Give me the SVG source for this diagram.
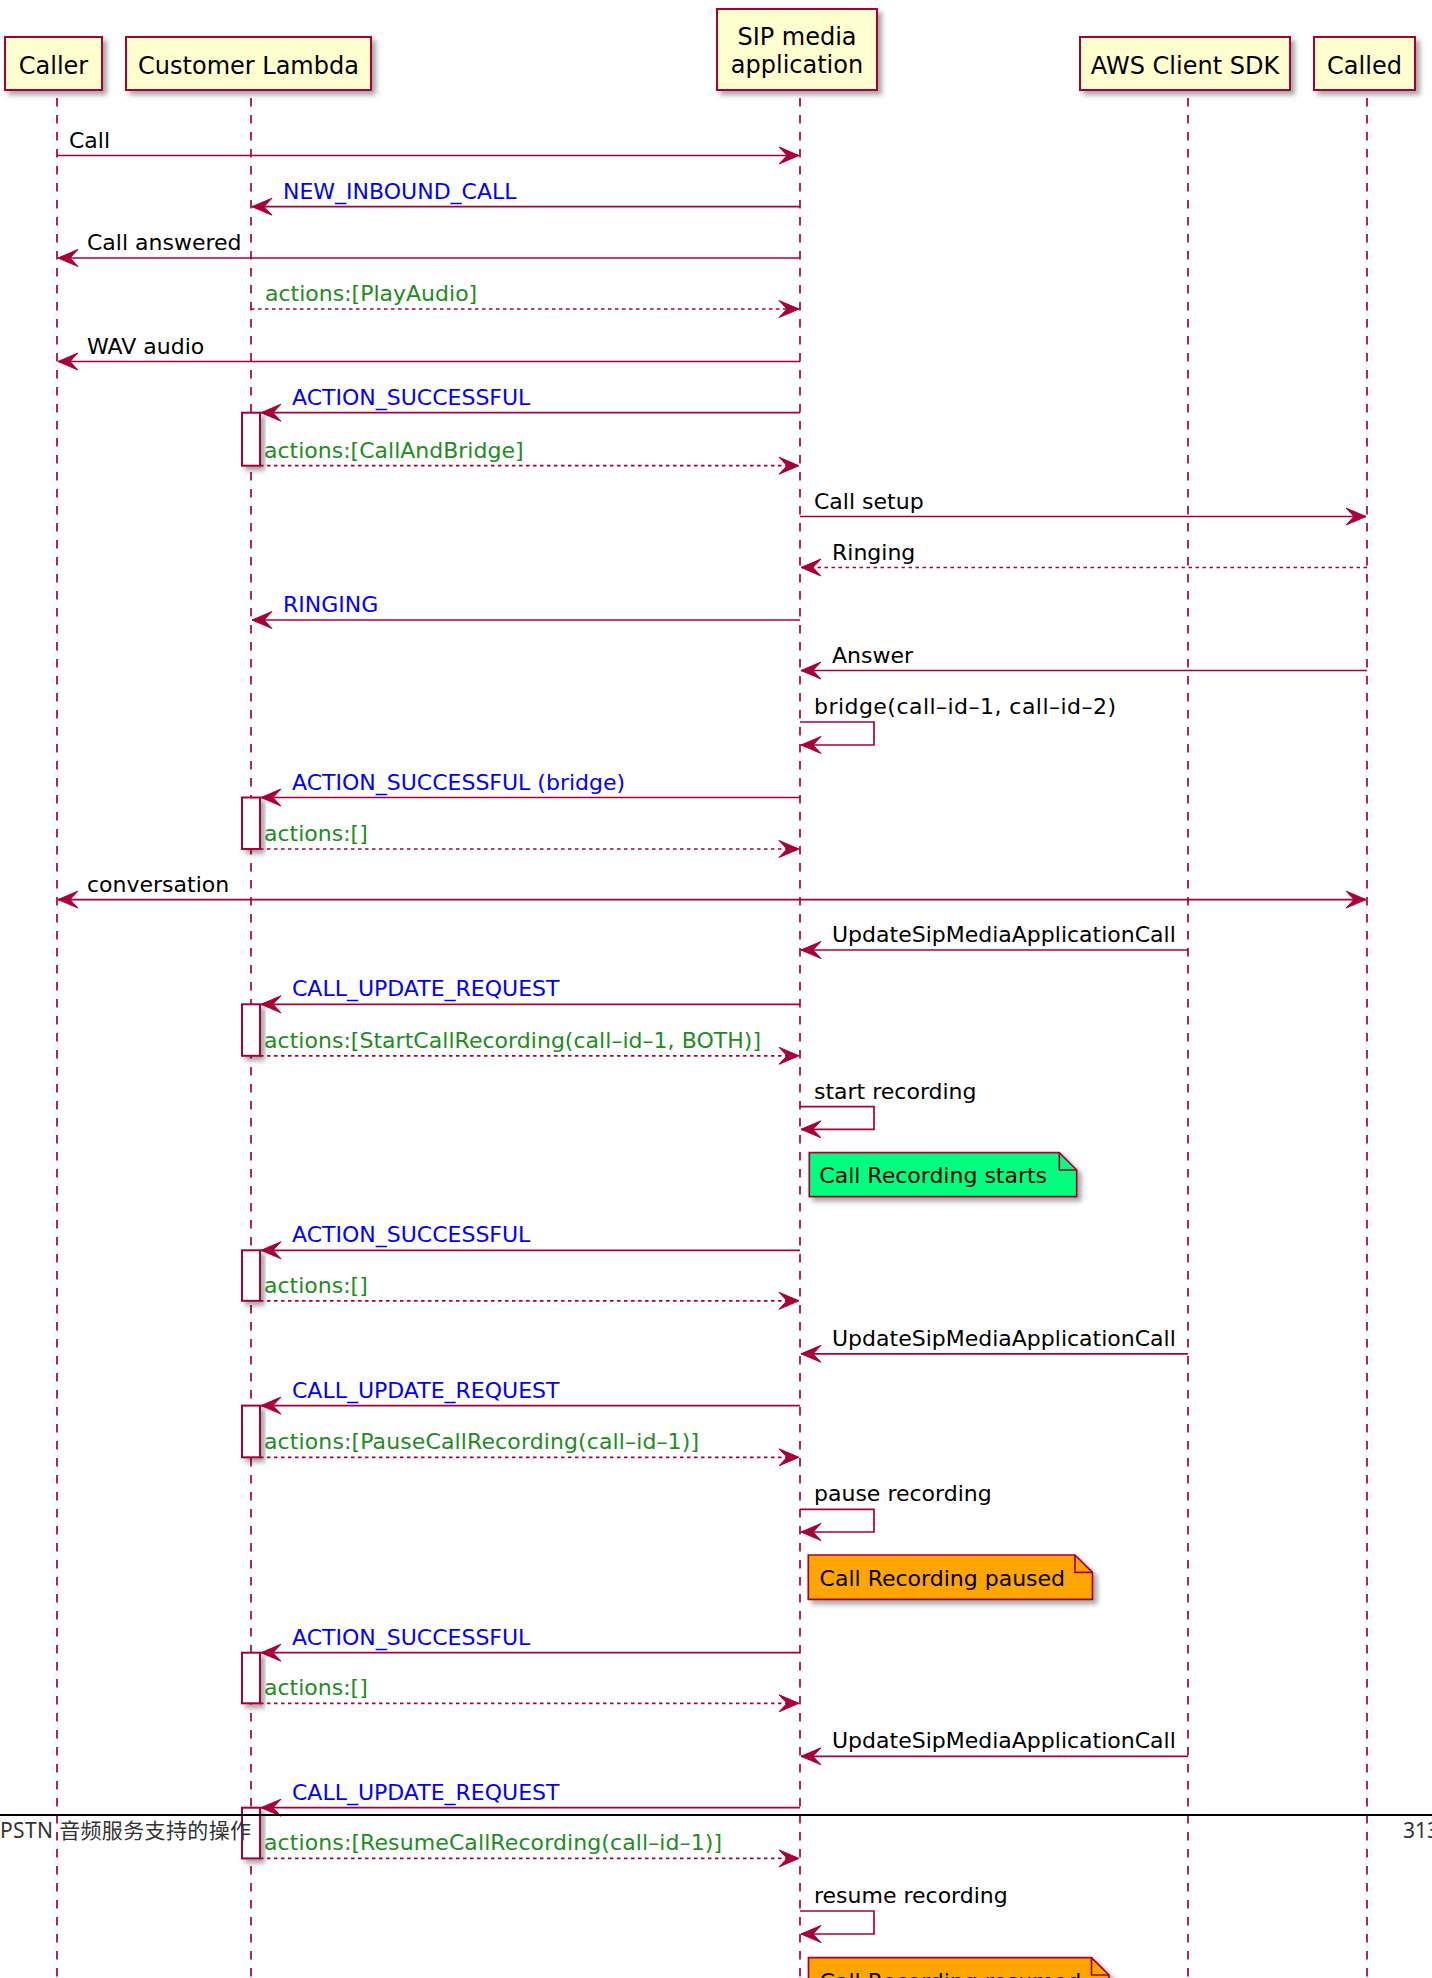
<svg xmlns="http://www.w3.org/2000/svg" width="1432" height="1978" viewBox="0 0 1432 1978">
<defs>
<filter id="sh" x="-20%" y="-20%" width="150%" height="150%"><feDropShadow dx="4" dy="4" stdDeviation="2.5" flood-color="#000" flood-opacity="0.35"/></filter>
<marker id="ah" markerUnits="userSpaceOnUse" viewBox="-22 -10 24 20" markerWidth="24" markerHeight="20" refX="0" refY="0" orient="auto-start-reverse"><path d="M0,0 L-20,-8.5 L-12,0 L-20,8.5 Z" fill="#A80036" stroke="#A80036" stroke-width="1" stroke-linejoin="miter"/></marker>
</defs>
<style>
.part{fill:#FEFECE;stroke:#A80036;stroke-width:2;filter:url(#sh)}
.ptxt{font-family:"DejaVu Sans",sans-serif;font-size:24px;fill:#000;text-anchor:middle}
.life{stroke:#A80036;stroke-width:1.7;stroke-dasharray:8.5,8.5;fill:none}
.msg{stroke:#A80036;stroke-width:1.7;fill:none;marker-end:url(#ah)}
.ret{stroke:#A80036;stroke-width:1.7;fill:none;stroke-dasharray:3.5,3.5;marker-end:url(#ah)}
.t{font-family:"DejaVu Sans",sans-serif;font-size:22px;fill:#000}
.b{fill:#0000FF}
.g{fill:#228B22}
.act{fill:#FFFFFF;stroke:#A80036;stroke-width:2;filter:url(#sh)}
.note{stroke:#A80036;stroke-width:1.7;filter:url(#sh)}
.fold{stroke:#A80036;stroke-width:1.7;fill:none}
</style>
<rect width="1432" height="1978" fill="#FFFFFF"/>

<g id="lifelines">
<line class="life" x1="57" y1="98" x2="57" y2="1978"/>
<line class="life" x1="251" y1="98" x2="251" y2="1978"/>
<line class="life" x1="800" y1="98" x2="800" y2="1978"/>
<line class="life" x1="1188" y1="98" x2="1188" y2="1978"/>
<line class="life" x1="1367" y1="98" x2="1367" y2="1978"/>
</g>

<g id="caller"><rect class="part" x="5" y="37" width="97" height="53"/><text class="ptxt" x="53.5" y="74">Caller</text></g>
<g id="lambda"><rect class="part" x="126" y="37" width="245" height="53"/><text class="ptxt" x="248.5" y="74">Customer Lambda</text></g>
<g id="sip"><rect class="part" x="717" y="9" width="160" height="81"/><text class="ptxt" x="797" y="45">SIP media</text><text class="ptxt" x="797" y="73">application</text></g>
<g id="sdk"><rect class="part" x="1080" y="37" width="210" height="53"/><text class="ptxt" x="1185" y="74">AWS Client SDK</text></g>
<g id="called"><rect class="part" x="1314" y="37" width="101" height="53"/><text class="ptxt" x="1364.5" y="74">Called</text></g>

<g id="activations">
<rect class="act" x="242" y="412.7" width="18" height="53"/>
<rect class="act" x="242" y="797.5" width="18" height="51.5"/>
<rect class="act" x="242" y="1004.3" width="18" height="51.5"/>
<rect class="act" x="242" y="1250.3" width="18" height="50.5"/>
<rect class="act" x="242" y="1405.6" width="18" height="51.7"/>
<rect class="act" x="242" y="1652.7" width="18" height="50.6"/>
<rect class="act" x="242" y="1807.7" width="18" height="50.7"/>
</g>

<g id="connectors">
<line class="msg" x1="57" y1="155.5" x2="799" y2="155.5"/>
<text class="t" x="69" y="147.5">Call</text>
<line class="msg" x1="800" y1="206.7" x2="252" y2="206.7"/>
<text class="t b" x="283" y="198.7">NEW_INBOUND_CALL</text>
<line class="msg" x1="800" y1="258" x2="58" y2="258"/>
<text class="t" x="87" y="250">Call answered</text>
<line class="ret" x1="251" y1="309" x2="799" y2="309"/>
<text class="t g" x="265" y="301">actions:[PlayAudio]</text>
<line class="msg" x1="800" y1="361.5" x2="58" y2="361.5"/>
<text class="t" x="87" y="353.5">WAV audio</text>
<line class="msg" x1="800" y1="412.7" x2="261" y2="412.7"/>
<text class="t b" x="292" y="404.7">ACTION_SUCCESSFUL</text>
<line class="ret" x1="260" y1="465.7" x2="799" y2="465.7"/>
<text class="t g" x="264" y="457.7">actions:[CallAndBridge]</text>
<line class="msg" x1="800" y1="516.5" x2="1366" y2="516.5"/>
<text class="t" x="814" y="508.5">Call setup</text>
<line class="ret" x1="1367" y1="567.5" x2="801" y2="567.5"/>
<text class="t" x="832" y="559.5">Ringing</text>
<line class="msg" x1="800" y1="620" x2="252" y2="620"/>
<text class="t b" x="283" y="612">RINGING</text>
<line class="msg" x1="1367" y1="670.5" x2="801" y2="670.5"/>
<text class="t" x="832" y="662.5">Answer</text>
<path class="msg" d="M800,722 H874 V745 H801"/>
<text class="t" x="814" y="714" textLength="302" lengthAdjust="spacing">bridge(call–id–1, call–id–2)</text>
<line class="msg" x1="800" y1="797.5" x2="261" y2="797.5"/>
<text class="t b" x="292" y="789.5">ACTION_SUCCESSFUL (bridge)</text>
<line class="ret" x1="260" y1="849" x2="799" y2="849"/>
<text class="t g" x="264" y="841">actions:[]</text>
<line class="msg" style="marker-start:url(#ah)" x1="58" y1="899.6" x2="1366" y2="899.6"/>
<text class="t" x="87" y="891.6">conversation</text>
<line class="msg" x1="1188" y1="950" x2="801" y2="950"/>
<text class="t" x="832" y="942">UpdateSipMediaApplicationCall</text>
<line class="msg" x1="800" y1="1004.3" x2="261" y2="1004.3"/>
<text class="t b" x="292" y="996.3">CALL_UPDATE_REQUEST</text>
<line class="ret" x1="260" y1="1055.8" x2="799" y2="1055.8"/>
<text class="t g" x="264" y="1047.8" textLength="497" lengthAdjust="spacing">actions:[StartCallRecording(call–id–1, BOTH)]</text>
<path class="msg" d="M800,1106.7 H874 V1129.3 H801"/>
<text class="t" x="814" y="1098.7">start recording</text>
<line class="msg" x1="800" y1="1250.3" x2="261" y2="1250.3"/>
<text class="t b" x="292" y="1242.3">ACTION_SUCCESSFUL</text>
<line class="ret" x1="260" y1="1300.8" x2="799" y2="1300.8"/>
<text class="t g" x="264" y="1292.8">actions:[]</text>
<line class="msg" x1="1188" y1="1353.8" x2="801" y2="1353.8"/>
<text class="t" x="832" y="1345.8">UpdateSipMediaApplicationCall</text>
<line class="msg" x1="800" y1="1405.6" x2="261" y2="1405.6"/>
<text class="t b" x="292" y="1397.6">CALL_UPDATE_REQUEST</text>
<line class="ret" x1="260" y1="1457.3" x2="799" y2="1457.3"/>
<text class="t g" x="264" y="1449.3" textLength="435" lengthAdjust="spacing">actions:[PauseCallRecording(call–id–1)]</text>
<path class="msg" d="M800,1509.3 H874 V1532 H801"/>
<text class="t" x="814" y="1501.3">pause recording</text>
<line class="msg" x1="800" y1="1652.7" x2="261" y2="1652.7"/>
<text class="t b" x="292" y="1644.7">ACTION_SUCCESSFUL</text>
<line class="ret" x1="260" y1="1703.3" x2="799" y2="1703.3"/>
<text class="t g" x="264" y="1695.3">actions:[]</text>
<line class="msg" x1="1188" y1="1756.3" x2="801" y2="1756.3"/>
<text class="t" x="832" y="1748.3">UpdateSipMediaApplicationCall</text>
<line class="msg" x1="800" y1="1807.7" x2="261" y2="1807.7"/>
<text class="t b" x="292" y="1799.7">CALL_UPDATE_REQUEST</text>
<line class="ret" x1="260" y1="1858.4" x2="799" y2="1858.4"/>
<text class="t g" x="264" y="1850.4" textLength="458" lengthAdjust="spacing">actions:[ResumeCallRecording(call–id–1)]</text>
<path class="msg" d="M800,1911 H874 V1934 H801"/>
<text class="t" x="814" y="1903">resume recording</text>
</g>

<g id="note-starts">
<path class="note" fill="#00FF7F" d="M809.3,1152.7 H1059.3 L1076.7,1170 V1196.7 H809.3 Z"/>
<path class="fold" d="M1059.3,1152.7 V1170 H1076.7"/>
<text class="t" x="819.3" y="1183.3">Call Recording starts</text>
</g>
<g id="note-paused">
<path class="note" fill="#FFA500" d="M808.3,1555 H1075 L1092.5,1572.3 V1599.3 H808.3 Z"/>
<path class="fold" d="M1075,1555 V1572.3 H1092.5"/>
<text class="t" x="819.6" y="1586">Call Recording paused</text>
</g>
<g id="note-resumed">
<path class="note" fill="#FFA500" d="M808.5,1957.7 H1091.5 L1109,1975 V2001.7 H808.5 Z"/>
<path class="fold" d="M1091.5,1957.7 V1975 H1109"/>
<text class="t" x="819.6" y="1988.5">Call Recording resumed</text>
</g>

<g id="page-footer">
<line x1="0" y1="1815" x2="1432" y2="1815" stroke="#000" stroke-width="2"/>
<text x="0" y="1838" font-family="'Noto Sans','Noto Sans CJK SC',sans-serif" font-size="21" fill="#333" textLength="251" lengthAdjust="spacing">PSTN 音频服务支持的操作</text>
<text x="1403" y="1838" font-family="'Noto Sans','Noto Sans CJK SC',sans-serif" font-size="21" fill="#333">313</text>
</g>
</svg>
